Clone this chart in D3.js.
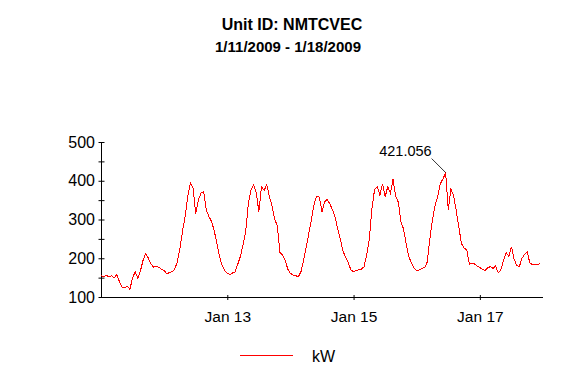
<!DOCTYPE html>
<html>
<head>
<meta charset="utf-8">
<script src="https://cdn.jsdelivr.net/npm/d3@7"></script>
<style>
  body { margin: 0; background: #fff; }
  svg { font-family: Arial, "Liberation Sans", sans-serif; }
</style>
</head>
<body>
<svg id="chart" width="580" height="380"></svg>
<script>
// hourly kW readings, starting 1/11/2009 00:00
var startTime = new Date(2009, 0, 11, 0, 0);
var endTime = new Date(2009, 0, 18, 0, 0);
var kw = [
  // Jan 11
  155, 153, 156, 152, 155, 150, 157, 140, 126, 124, 127, 120,
  150, 165, 148, 168, 195, 212, 200, 185, 177, 180, 176, 172,
  // Jan 12
  168, 160, 163, 165, 172, 190, 225, 270, 310, 360, 395, 380,
  315, 350, 368, 372, 325, 308, 295, 272, 240, 205, 182, 168,
  // Jan 13
  161, 158, 162, 165, 185, 205, 235, 270, 340, 375, 390, 370,
  320, 385, 375, 390, 360, 335, 300, 285, 215, 208, 195, 172,
  // Jan 14
  161, 157, 155, 152, 165, 195, 228, 265, 300, 340, 360, 358,
  320, 345, 352, 340, 325, 305, 275, 248, 218, 202, 188, 170,
  // Jan 15
  165, 168, 170, 172, 178, 210, 250, 330, 378, 385, 363, 392,
  358, 385, 368, 404, 360, 345, 295, 275, 238, 204, 188, 175,
  // Jan 16
  168, 170, 174, 176, 190, 250, 300, 337, 360, 393, 405, 421.056,
  324, 378, 362, 324, 281, 238, 226, 222, 185, 188, 185, 180,
  // Jan 17
  176, 172, 168, 176, 178, 174, 180, 162, 170, 195, 215, 205,
  230, 198, 182, 178, 200, 210, 216, 188, 183, 184, 183, 187
];
var yTicks = [100, 150, 200, 250, 300, 350, 400, 450, 500];
var yLabels = [100, 200, 300, 400, 500];
var xTickDays = [new Date(2009, 0, 13), new Date(2009, 0, 15), new Date(2009, 0, 17)];
var titleLines = ["Unit ID: NMTCVEC", "1/11/2009 - 1/18/2009"];
var seriesName = "kW";

(function() {
  var points = kw.map(function(v, i) {
    return { t: d3.timeHour.offset(startTime, i), v: v };
  });

  var svg = d3.select("#chart");
  var plotLeft = 101, plotRight = 543, plotTop = 142, plotBottom = 297;

  var x = d3.scaleTime().domain([startTime, endTime]).range([plotLeft, plotRight]);
  var y = d3.scaleLinear().domain([100, 500]).range([plotBottom, plotTop]);

  // title
  svg.append("text")
    .attr("x", 292).attr("y", 30)
    .attr("text-anchor", "middle")
    .attr("font-weight", "bold").attr("font-size", 16)
    .text(titleLines[0]);
  svg.append("text")
    .attr("x", 288).attr("y", 51.5)
    .attr("text-anchor", "middle")
    .attr("font-weight", "bold").attr("font-size", 15)
    .text(titleLines[1]);

  // y axis
  var yAxis = svg.append("g")
    .attr("transform", "translate(" + plotLeft + ",0)")
    .call(d3.axisLeft(y).tickValues(yTicks).tickSizeOuter(0).tickPadding(6)
      .tickFormat(function(d) { return yLabels.indexOf(d) >= 0 ? d : ""; }));
  yAxis.select(".domain").attr("stroke", "#000").attr("d", "M0.5," + plotTop + "V" + plotBottom);
  yAxis.selectAll(".tick line").attr("x1", 3.5).attr("x2", -2.5).attr("stroke", "#000");
  yAxis.selectAll(".tick text")
    .attr("font-size", 16).attr("font-family", null).attr("fill", "#000").attr("x", -6);

  // x axis
  var xAxis = svg.append("g")
    .attr("transform", "translate(0," + plotBottom + ")")
    .call(d3.axisBottom(x).tickValues(xTickDays).tickSizeOuter(0).tickPadding(8)
      .tickFormat(d3.timeFormat("%b %-d")));
  xAxis.select(".domain").attr("stroke", "#000").attr("d", "M" + plotLeft + ",0.5H" + plotRight);
  xAxis.selectAll(".tick line").attr("y1", -2).attr("y2", 3).attr("stroke", "#000");
  xAxis.selectAll(".tick text")
    .attr("font-size", 15.5).attr("font-family", null).attr("fill", "#000");

  // series
  var line = d3.line()
    .x(function(d) { return x(d.t); })
    .y(function(d) { return y(d.v); });
  svg.append("path")
    .datum(points)
    .attr("fill", "none")
    .attr("stroke", "#ff0000")
    .attr("stroke-width", 1)
    .attr("shape-rendering", "crispEdges")
    .attr("d", line);

  // peak label
  var peak = points.reduce(function(a, b) { return b.v > a.v ? b : a; });
  var px = x(peak.t), py = y(peak.v);
  svg.append("line")
    .attr("x1", px).attr("y1", py)
    .attr("x2", px - 14).attr("y2", py - 14)
    .attr("stroke", "#000").attr("stroke-width", 0.8);
  svg.append("text")
    .attr("x", px - 14).attr("y", py - 17)
    .attr("text-anchor", "end")
    .attr("font-size", 14.5)
    .text(d3.format(".3f")(peak.v));

  // legend
  svg.append("line")
    .attr("x1", 240).attr("x2", 293).attr("y1", 355.5).attr("y2", 355.5)
    .attr("stroke", "#ff0000");
  svg.append("text")
    .attr("x", 312).attr("y", 362)
    .attr("font-size", 16)
    .text(seriesName);
})();
</script>
</body>
</html>
